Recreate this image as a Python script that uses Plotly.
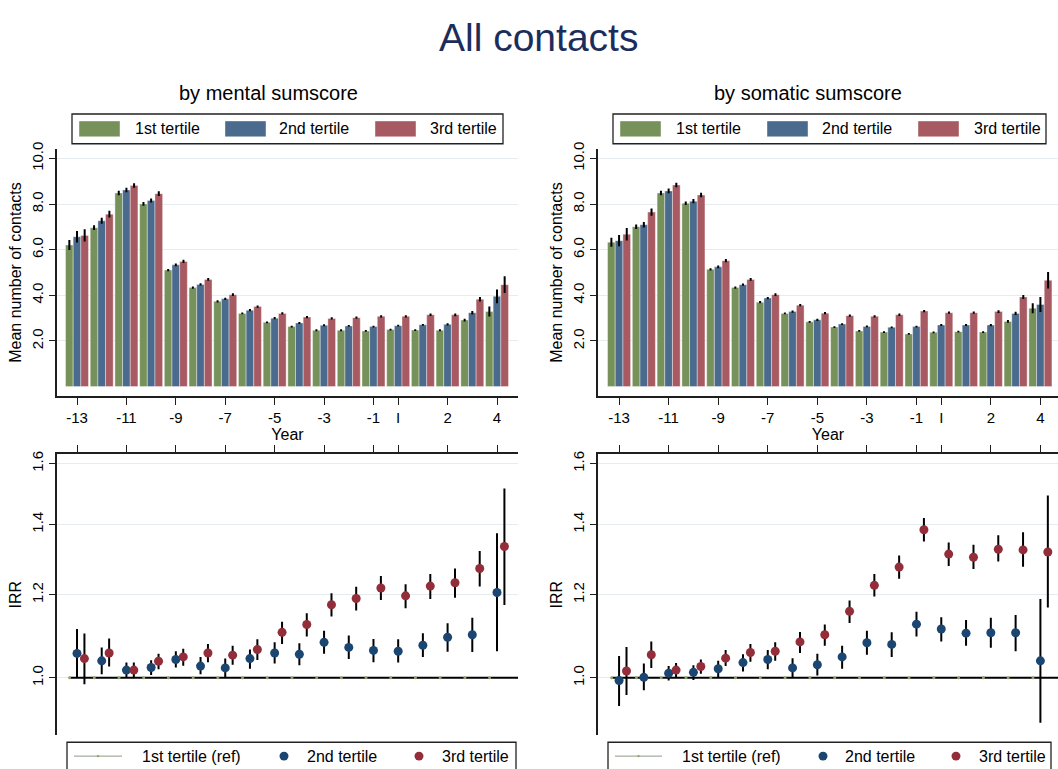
import plotly.graph_objects as go

W, H = 1058, 769

# ---------------- data ----------------
year_labels = ["-13", "-12", "-11", "-10", "-9", "-8", "-7", "-6", "-5", "-4",
               "-3", "-2", "-1", "I", "1", "2", "3", "4"]
year_pos = [-13, -12, -11, -10, -9, -8, -7, -6, -5, -4, -3, -2, -1, 0, 1, 2, 3, 4]
tick_vals = [-13, -11, -9, -7, -5, -3, -1, 0, 2, 4]
tick_text = ["-13", "-11", "-9", "-7", "-5", "-3", "-1", "I", "2", "4"]
series_names = ["1st tertile", "2nd tertile", "3rd tertile"]

# Mean number of contacts, by mental sumscore
mental_t1 = [6.21, 6.97, 8.49, 8.01, 5.11, 4.34, 3.74, 3.21, 2.82, 2.63, 2.47, 2.47, 2.44, 2.50, 2.48, 2.47, 2.92, 3.29]
mental_t2 = [6.57, 7.27, 8.62, 8.16, 5.34, 4.48, 3.85, 3.35, 3.00, 2.79, 2.69, 2.66, 2.63, 2.67, 2.71, 2.73, 3.24, 3.96]
mental_t3 = [6.63, 7.56, 8.82, 8.46, 5.49, 4.70, 4.03, 3.51, 3.21, 3.05, 2.99, 3.02, 3.08, 3.08, 3.15, 3.15, 3.83, 4.47]
mental_t1_ci = [0.22, 0.10, 0.10, 0.08, 0.05, 0.05, 0.05, 0.04, 0.04, 0.04, 0.04, 0.04, 0.04, 0.04, 0.04, 0.04, 0.06, 0.22]
mental_t2_ci = [0.25, 0.13, 0.10, 0.09, 0.06, 0.05, 0.05, 0.05, 0.05, 0.04, 0.04, 0.04, 0.04, 0.04, 0.04, 0.05, 0.08, 0.30]
mental_t3_ci = [0.27, 0.15, 0.10, 0.10, 0.07, 0.06, 0.06, 0.05, 0.05, 0.05, 0.05, 0.05, 0.05, 0.05, 0.05, 0.06, 0.10, 0.37]

# Mean number of contacts, by somatic sumscore
somatic_t1 = [6.33, 7.01, 8.49, 8.04, 5.14, 4.34, 3.70, 3.21, 2.84, 2.61, 2.44, 2.39, 2.31, 2.38, 2.41, 2.39, 2.86, 3.44]
somatic_t2 = [6.40, 7.10, 8.58, 8.13, 5.25, 4.47, 3.88, 3.29, 2.93, 2.74, 2.64, 2.60, 2.63, 2.70, 2.70, 2.70, 3.21, 3.60]
somatic_t3 = [6.68, 7.65, 8.84, 8.40, 5.52, 4.70, 4.03, 3.57, 3.22, 3.11, 3.08, 3.15, 3.31, 3.24, 3.24, 3.29, 3.93, 4.66]
somatic_t1_ci = [0.20, 0.10, 0.10, 0.08, 0.05, 0.05, 0.05, 0.04, 0.04, 0.04, 0.04, 0.04, 0.04, 0.04, 0.04, 0.04, 0.06, 0.22]
somatic_t2_ci = [0.25, 0.12, 0.10, 0.09, 0.06, 0.05, 0.05, 0.05, 0.05, 0.04, 0.04, 0.04, 0.04, 0.04, 0.04, 0.05, 0.07, 0.33]
somatic_t3_ci = [0.27, 0.16, 0.10, 0.10, 0.07, 0.06, 0.06, 0.05, 0.05, 0.05, 0.05, 0.05, 0.05, 0.05, 0.05, 0.06, 0.09, 0.36]

# IRR (reference = 1st tertile), by mental sumscore
mental_ref = [1.0, 1.0, 1.0, 1.0, 1.0, 1.0, 1.0, 1.0, 1.0, 1.0, 1.0, 1.0, 1.0, 1.0, 1.0, 1.0, 1.0, 1.0]
mental_irr2 = [1.055, 1.038, 1.017, 1.023, 1.041, 1.026, 1.022, 1.043, 1.056, 1.053, 1.081, 1.069, 1.062, 1.060, 1.074, 1.093, 1.099, 1.206]
mental_irr2_lo = [1.000, 1.008, 1.000, 1.006, 1.023, 1.008, 1.000, 1.020, 1.032, 1.028, 1.054, 1.042, 1.035, 1.034, 1.047, 1.059, 1.058, 1.060]
mental_irr2_hi = [1.113, 1.069, 1.034, 1.039, 1.060, 1.047, 1.043, 1.064, 1.081, 1.079, 1.109, 1.097, 1.089, 1.088, 1.103, 1.127, 1.141, 1.373]
mental_irr3 = [1.043, 1.056, 1.017, 1.037, 1.047, 1.056, 1.051, 1.064, 1.105, 1.124, 1.174, 1.190, 1.218, 1.197, 1.223, 1.232, 1.271, 1.334]
mental_irr3_lo = [0.986, 1.025, 1.000, 1.019, 1.027, 1.035, 1.029, 1.040, 1.077, 1.095, 1.144, 1.159, 1.186, 1.165, 1.189, 1.192, 1.222, 1.173]
mental_irr3_hi = [1.102, 1.090, 1.034, 1.054, 1.066, 1.077, 1.073, 1.088, 1.131, 1.152, 1.204, 1.221, 1.250, 1.228, 1.256, 1.271, 1.321, 1.515]

# IRR (reference = 1st tertile), by somatic sumscore
somatic_ref = [1.0, 1.0, 1.0, 1.0, 1.0, 1.0, 1.0, 1.0, 1.0, 1.0, 1.0, 1.0, 1.0, 1.0, 1.0, 1.0, 1.0, 1.0]
somatic_irr2 = [0.994, 1.001, 1.010, 1.012, 1.020, 1.034, 1.041, 1.022, 1.029, 1.047, 1.080, 1.076, 1.125, 1.113, 1.103, 1.104, 1.104, 1.038]
somatic_irr2_lo = [0.940, 0.973, 0.994, 0.995, 1.000, 1.014, 1.019, 1.000, 1.005, 1.020, 1.052, 1.047, 1.095, 1.083, 1.073, 1.068, 1.060, 0.906]
somatic_irr2_hi = [1.049, 1.032, 1.026, 1.028, 1.038, 1.053, 1.063, 1.044, 1.054, 1.073, 1.109, 1.105, 1.156, 1.142, 1.135, 1.141, 1.148, 1.189]
somatic_irr3 = [1.015, 1.052, 1.017, 1.025, 1.044, 1.057, 1.060, 1.082, 1.099, 1.157, 1.225, 1.275, 1.384, 1.312, 1.303, 1.326, 1.324, 1.318]
somatic_irr3_lo = [0.963, 1.022, 1.000, 1.009, 1.026, 1.036, 1.038, 1.056, 1.073, 1.128, 1.195, 1.243, 1.349, 1.278, 1.270, 1.291, 1.276, 1.167]
somatic_irr3_hi = [1.070, 1.083, 1.033, 1.041, 1.063, 1.077, 1.081, 1.106, 1.124, 1.185, 1.256, 1.308, 1.420, 1.346, 1.339, 1.367, 1.376, 1.492]

# ---------------- style ----------------
FONT = "Liberation Sans, Arial, Helvetica, sans-serif"
BAR_COLORS = ["#76925a", "#4a6b8d", "#a85a62"]
NAVY = "#1b4672"
MAROON = "#922d39"
REF_GREEN = "#8fa565"
AXIS = "#1e1e1e"
GRID = "#e4ecf0"


def px_x(p):
    return p / W


def px_y(p):
    return 1 - p / H


fig = go.Figure()

# ---------------- bar panels ----------------
bar_sets = [
    ("x", "y", [mental_t1, mental_t2, mental_t3], [mental_t1_ci, mental_t2_ci, mental_t3_ci]),
    ("x2", "y2", [somatic_t1, somatic_t2, somatic_t3], [somatic_t1_ci, somatic_t2_ci, somatic_t3_ci]),
]
for xa, ya, vals, cis in bar_sets:
    for k, (name, v, ci, col) in enumerate(zip(series_names, vals, cis, BAR_COLORS)):
        fig.add_trace(go.Bar(
            x=year_pos, y=v, name=name, xaxis=xa, yaxis=ya, showlegend=False,
            offsetgroup=str(k),
            marker=dict(color=col, line=dict(color="rgba(255,255,255,0.55)", width=0.7)),
            error_y=dict(type="data", array=ci, visible=True, color="black",
                         thickness=2, width=0),
        ))

# ---------------- IRR panels ----------------
irr_sets = [
    ("x3", "y3", mental_ref, mental_irr2, mental_irr2_lo, mental_irr2_hi,
     mental_irr3, mental_irr3_lo, mental_irr3_hi),
    ("x4", "y4", somatic_ref, somatic_irr2, somatic_irr2_lo, somatic_irr2_hi,
     somatic_irr3, somatic_irr3_lo, somatic_irr3_hi),
]
for xa, ya, ref, i2, l2, h2, i3, l3, h3 in irr_sets:
    # reference line at IRR = 1 (1st tertile)
    fig.add_trace(go.Scatter(
        x=[p - 0.3 for p in year_pos] + [4.9], y=ref + [1.0], mode="lines", xaxis=xa, yaxis=ya,
        showlegend=False, hoverinfo="skip", line=dict(color="black", width=2),
    ))
    fig.add_trace(go.Scatter(
        x=[p - 0.3 for p in year_pos], y=ref, mode="markers", xaxis=xa, yaxis=ya,
        name="1st tertile (ref)", showlegend=False,
        marker=dict(color=REF_GREEN, size=3),
    ))
    fig.add_trace(go.Scatter(
        x=year_pos, y=i2, mode="markers", xaxis=xa, yaxis=ya,
        name="2nd tertile", showlegend=False,
        marker=dict(color=NAVY, size=9),
        error_y=dict(type="data", symmetric=False,
                     array=[h - v for h, v in zip(h2, i2)],
                     arrayminus=[v - l for v, l in zip(i2, l2)],
                     color="black", thickness=2, width=0),
    ))
    fig.add_trace(go.Scatter(
        x=[p + 0.3 for p in year_pos], y=i3, mode="markers", xaxis=xa, yaxis=ya,
        name="3rd tertile", showlegend=False,
        marker=dict(color=MAROON, size=9),
        error_y=dict(type="data", symmetric=False,
                     array=[h - v for h, v in zip(h3, i3)],
                     arrayminus=[v - l for v, l in zip(i3, l3)],
                     color="black", thickness=2, width=0),
    ))

# ---------------- axes ----------------
common_x = dict(tickvals=tick_vals, ticks="outside", ticklen=7, tickwidth=1.3,
                tickcolor=AXIS, showline=True, linecolor=AXIS, linewidth=1.5,
                showgrid=False, zeroline=False,
                tickfont=dict(family=FONT, size=15, color="black"))
common_y = dict(ticks="outside", ticklen=6, tickwidth=1.3, tickcolor=AXIS,
                showline=True, linecolor=AXIS, linewidth=1.5, showgrid=True,
                gridcolor=GRID, gridwidth=1, zeroline=False, tickangle=-90,
                tickfont=dict(family=FONT, size=15, color="black"))

left_dom = [px_x(57), px_x(518)]
right_dom = [px_x(598), 1.0]
top_dom = [px_y(393), px_y(143)]
bot_dom = [px_y(735), px_y(451)]

fig.update_layout(
    xaxis=dict(common_x, domain=left_dom, range=[-13.81, 4.85], anchor="y",
               ticktext=tick_text,
               title=dict(text="Year", font=dict(family=FONT, size=16, color="black"), standoff=2)),
    yaxis=dict(common_y, domain=top_dom, range=[-0.43, 10.43], anchor="x",
               tickvals=[2, 4, 6, 8, 10], ticktext=["2.0", "4.0", "6.0", "8.0", "10.0"],
               title=dict(text="Mean number of contacts", font=dict(family=FONT, size=16, color="black"), standoff=4)),
    xaxis2=dict(common_x, domain=right_dom, range=[-13.85, 4.71], anchor="y2",
                ticktext=tick_text,
                title=dict(text="Year", font=dict(family=FONT, size=16, color="black"), standoff=2)),
    yaxis2=dict(common_y, domain=top_dom, range=[-0.43, 10.43], anchor="x2",
                tickvals=[2, 4, 6, 8, 10], ticktext=["2.0", "4.0", "6.0", "8.0", "10.0"],
                title=dict(text="Mean number of contacts", font=dict(family=FONT, size=16, color="black"), standoff=4)),
    xaxis3=dict(common_x, domain=left_dom, range=[-13.81, 4.85], anchor="y3",
                side="top", showticklabels=False),
    yaxis3=dict(common_y, domain=bot_dom, type="log", range=[-0.0548, 0.2134], anchor="x3",
                tickvals=[1.0, 1.2, 1.4, 1.6], ticktext=["1.0", "1.2", "1.4", "1.6"],
                title=dict(text="IRR", font=dict(family=FONT, size=16, color="black"), standoff=4)),
    xaxis4=dict(common_x, domain=right_dom, range=[-13.85, 4.71], anchor="y4",
                side="top", showticklabels=False),
    yaxis4=dict(common_y, domain=bot_dom, type="log", range=[-0.0548, 0.2134], anchor="x4",
                tickvals=[1.0, 1.2, 1.4, 1.6], ticktext=["1.0", "1.2", "1.4", "1.6"],
                title=dict(text="IRR", font=dict(family=FONT, size=16, color="black"), standoff=4)),
    barmode="group", bargap=0.07, bargroupgap=0,
    width=W, height=H, margin=dict(l=0, r=0, t=0, b=0),
    paper_bgcolor="white", plot_bgcolor="white",
    showlegend=False,
    font=dict(family=FONT, color="black"),
)

shapes = []
annotations = []

# titles
annotations.append(dict(text="All contacts", x=px_x(538), y=px_y(31), xref="paper", yref="paper",
                        showarrow=False, xanchor="center", yanchor="middle",
                        font=dict(family=FONT, size=39, color="#1c2d5b")))
annotations.append(dict(text="by mental sumscore", x=px_x(268), y=px_y(87), xref="paper", yref="paper",
                        showarrow=False, xanchor="center", yanchor="middle",
                        font=dict(family=FONT, size=20, color="black")))
annotations.append(dict(text="by somatic sumscore", x=px_x(808), y=px_y(87), xref="paper", yref="paper",
                        showarrow=False, xanchor="center", yanchor="middle",
                        font=dict(family=FONT, size=20, color="black")))


def rect(x0, y0, x1, y1, fill, line_col, lw):
    return dict(type="rect", xref="paper", yref="paper",
                x0=px_x(x0), x1=px_x(x1), y0=px_y(y1), y1=px_y(y0),
                fillcolor=fill, line=dict(color=line_col, width=lw), layer="above")


def label(text, x, y):
    return dict(text=text, x=px_x(x), y=px_y(y), xref="paper", yref="paper",
                showarrow=False, xanchor="left", yanchor="middle",
                font=dict(family=FONT, size=16, color="black"))


# top legends (bar swatches)
for box, swatches, texts in [
    ((72, 108, 503, 138), [79, 225, 375], [133, 277, 428]),
    ((613, 108, 1046, 138), [620, 767, 918], [674, 820, 972]),
]:
    shapes.append(rect(*box, "white", "#222222", 1.3))
    for sx, tx, col, name in zip(swatches, texts, BAR_COLORS, series_names):
        shapes.append(rect(sx, 115, sx + 41, 131, col, "rgba(255,255,255,0.6)", 0.7))
        annotations.append(label(name, tx, 123))

# bottom legends (markers)
for box, line_x, dot2, dot3, texts in [
    ((67, 742, 516, 790), (74, 122), 284, 419, (140, 305, 440)),
    ((608, 742, 1051, 790), (615, 662), 823, 956, (680, 843, 977)),
]:
    shapes.append(rect(*box, "white", "#222222", 1.3))
    shapes.append(dict(type="line", xref="paper", yref="paper",
                       x0=px_x(line_x[0]), x1=px_x(line_x[1]), y0=px_y(756), y1=px_y(756),
                       line=dict(color="#8c9a84", width=1), layer="above"))
    for cx, col, r in [((line_x[0] + line_x[1]) / 2, REF_GREEN, 1.2), (dot2, NAVY, 4.5), (dot3, MAROON, 4.5)]:
        shapes.append(dict(type="circle", xref="paper", yref="paper",
                           x0=px_x(cx - r), x1=px_x(cx + r), y0=px_y(756 + r), y1=px_y(756 - r),
                           fillcolor=col, line=dict(width=0), layer="above"))
    for t, tx in zip(["1st tertile (ref)", "2nd tertile", "3rd tertile"], texts):
        annotations.append(label(t, tx, 756))

fig.update_layout(shapes=shapes, annotations=annotations)

fig.write_html(
    "out.html",
    config={"displayModeBar": False},
    post_script="document.body.style.margin='0';document.body.style.overflow='hidden';",
)
